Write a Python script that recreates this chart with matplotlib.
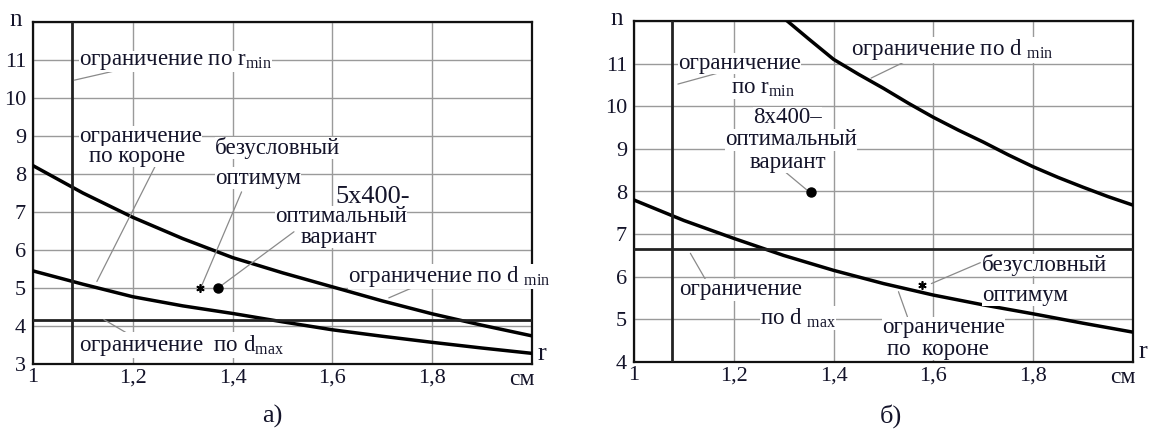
import matplotlib
matplotlib.use('Agg')
import matplotlib.pyplot as plt

plt.rcParams['font.family'] = ['Liberation Serif', 'DejaVu Serif']
plt.rcParams['mathtext.fontset'] = 'custom'
plt.rcParams['mathtext.rm'] = 'Liberation Serif'
plt.rcParams['mathtext.it'] = 'Liberation Serif'

TXT = '#14142a'
LEAD = '#8a8a8a'
FS = 16.5

# ---- panel a) ----
r_a = [1.0, 1.1, 1.2, 1.3, 1.4, 1.5, 1.6, 1.7, 1.8, 1.9, 2.0]
n_dmin_a = [8.22, 7.5, 6.86, 6.3, 5.8, 5.4, 5.03, 4.66, 4.32, 4.02, 3.74]
n_corona_a = [5.45, 5.1, 4.77, 4.53, 4.33, 4.11, 3.9, 3.73, 3.57, 3.42, 3.28]
rmin_a = 1.078
dmax_a = 4.17
opt_a = (1.335, 5.0)      # безусловный оптимум
var_a = (1.371, 5.0)      # 5x400 - оптимальный вариант

# ---- panel б) ----
r_b = [1.0, 1.1, 1.2, 1.3, 1.4, 1.5, 1.6, 1.7, 1.8, 1.9, 2.0]
n_corona_b = [7.8, 7.32, 6.9, 6.5, 6.15, 5.84, 5.57, 5.34, 5.13, 4.91, 4.7]
r_dmin_b = [1.28, 1.3, 1.35, 1.4, 1.45, 1.5, 1.55, 1.6, 1.65, 1.7, 1.75, 1.8, 1.85, 1.9, 1.95, 2.0]
n_dmin_b = [12.3, 12.07, 11.58, 11.1, 10.75, 10.42, 10.07, 9.74, 9.44, 9.16, 8.86, 8.58, 8.33, 8.1, 7.88, 7.68]
rmin_b = 1.077
dmax_b = 6.65
opt_b = (1.577, 5.8)
var_b = (1.355, 7.98)

x_ticks = [1.0, 1.2, 1.4, 1.6, 1.8, 2.0]
x_labels = ['1', '1,2', '1,4', '1,6', '1,8', '']

# text lines: (text, r, n, ha, size)
lines_a = [
    ('ограничение по r$_{\\mathrm{min}}$', 1.092, 10.96, 'left', FS),
    ('ограничение', 1.092, 8.98, 'left', FS),
    ('по короне', 1.113, 8.46, 'left', FS),
    ('безусловный', 1.365, 8.68, 'left', FS),
    ('оптимум', 1.365, 7.89, 'left', FS),
    ('5x400-', 1.681, 7.4, 'center', 19),
    ('оптимальный', 1.617, 6.88, 'center', FS),
    ('вариант', 1.613, 6.33, 'center', FS),
    ('ограничение по d $_{\\mathrm{min}}$', 1.631, 5.3, 'left', FS),
    ('ограничение  по d$_{\\mathrm{max}}$', 1.092, 3.5, 'left', FS),
]
# leader lines: (r0, n0, r1, n1)
leaders_a = [
    (1.083, 10.47, 1.176, 10.75),
    (1.247, 8.26, 1.128, 5.17),
    (1.418, 7.53, 1.338, 5.06),
    (1.523, 6.48, 1.377, 5.06),
    (1.773, 5.08, 1.713, 4.74),
    (1.142, 4.17, 1.195, 3.76),
]

lines_b = [
    ('ограничение', 1.088, 11.0, 'left', FS),
    ('по r$_{\\mathrm{min}}$', 1.194, 10.42, 'left', FS),
    ('ограничение по d $_{\\mathrm{min}}$', 1.435, 11.32, 'left', FS),
    ('8x400\u2013', 1.307, 9.74, 'center', FS),
    ('оптимальный', 1.314, 9.21, 'center', FS),
    ('вариант', 1.309, 8.68, 'center', FS),
    ('безусловный', 1.698, 6.27, 'left', FS),
    ('оптимум', 1.698, 5.57, 'left', FS),
    ('ограничение', 1.091, 5.69, 'left', FS),
    ('по d $_{\\mathrm{max}}$', 1.252, 5.03, 'left', FS),
    ('ограничение', 1.497, 4.8, 'left', FS),
    ('по  короне', 1.508, 4.3, 'left', FS),
]
leaders_b = [
    (1.088, 10.52, 1.175, 10.8),
    (1.57, 11.2, 1.475, 10.66),
    (1.303, 8.46, 1.347, 8.03),
    (1.694, 6.33, 1.596, 5.84),
    (1.113, 6.55, 1.146, 5.88),
    (1.548, 5.06, 1.53, 5.65),
]


def setup(ax, y0, y1):
    ax.set_xlim(1, 2)
    ax.set_ylim(y0, y1)
    ax.set_xticks(x_ticks)
    ax.set_xticklabels(x_labels)
    ax.set_yticks(range(y0, y1 + 1))
    ax.set_yticklabels([str(v) for v in range(y0, y1)] + [''])
    ax.tick_params(length=0, labelsize=16, colors=TXT)
    ax.tick_params(axis='x', pad=3)
    ax.tick_params(axis='y', pad=5)
    ax.grid(True, color='#9a9a9a', lw=1.0)
    ax.set_axisbelow(True)
    for s in ax.spines.values():
        s.set_linewidth(1.6)
        s.set_color('#111111')
    ax.text(-0.034, 1.005, 'n', transform=ax.transAxes, fontsize=18,
            ha='center', va='center', color=TXT)
    ax.text(1.02, 0.03, 'r', transform=ax.transAxes, fontsize=19,
            ha='center', va='center', color=TXT)
    ax.text(0.979, -0.045, 'см', transform=ax.transAxes, fontsize=17,
            ha='center', va='center', color=TXT)


def put_texts(ax, lines, leaders):
    for r0, n0, r1, n1 in leaders:
        ax.annotate('', xy=(r1, n1), xytext=(r0, n0),
                    arrowprops=dict(arrowstyle='-', color=LEAD, lw=0.9,
                                    shrinkA=0, shrinkB=0), zorder=4)
    for text, r, n, ha, size in lines:
        ax.text(r, n, text, ha=ha, va='center', fontsize=size, color=TXT,
                zorder=5, bbox=dict(facecolor='white', edgecolor='none', pad=0.2))


fig = plt.figure(figsize=(11.49, 4.36), dpi=100)
ax1 = fig.add_axes([33 / 1149, 1 - 364 / 436, 499 / 1149, 342 / 436])
ax2 = fig.add_axes([634 / 1149, 1 - 362 / 436, 499 / 1149, 341 / 436])

# a)
setup(ax1, 3, 12)
ax1.plot(r_a, n_dmin_a, color='black', lw=2.5, zorder=3)
ax1.plot(r_a, n_corona_a, color='black', lw=2.5, zorder=3)
ax1.axvline(rmin_a, color='#222222', lw=2.0, zorder=3)
ax1.axhline(dmax_a, color='#222222', lw=2.0, zorder=3)
put_texts(ax1, lines_a, leaders_a)
ax1.plot(*opt_a, marker=(6, 2, 0), color='black', ms=6, mew=1.2, zorder=6)
ax1.plot(*var_a, marker='o', color='black', ms=6.5, zorder=6)

# б)
setup(ax2, 4, 12)
ax2.plot(r_dmin_b, n_dmin_b, color='black', lw=2.5, zorder=3)
ax2.plot(r_b, n_corona_b, color='black', lw=2.5, zorder=3)
ax2.axvline(rmin_b, color='#222222', lw=2.0, zorder=3)
ax2.axhline(dmax_b, color='#222222', lw=2.0, zorder=3)
put_texts(ax2, lines_b, leaders_b)
ax2.plot(*opt_b, marker=(6, 2, 0), color='black', ms=6, mew=1.2, zorder=6)
ax2.plot(*var_b, marker='o', color='black', ms=6.5, zorder=6)

fig.text(272 / 1149, 1 - 416 / 436, 'а)', fontsize=19, ha='center', va='center', color=TXT)
fig.text(891 / 1149, 1 - 416 / 436, 'б)', fontsize=19, ha='center', va='center', color=TXT)

fig.savefig('out.png', dpi=100)
